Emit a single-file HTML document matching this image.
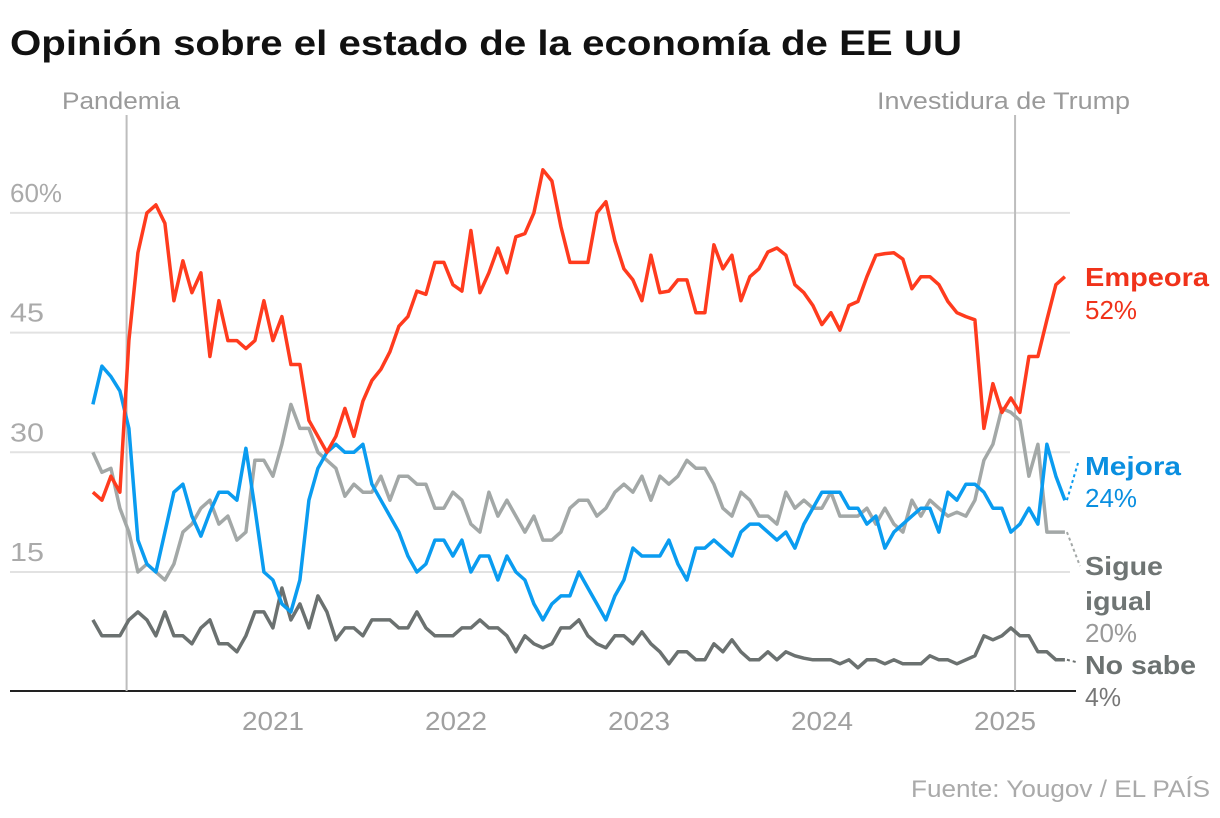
<!DOCTYPE html>
<html><head><meta charset="utf-8"><style>
body{margin:0;background:#fff;}
svg{display:block;font-family:"Liberation Sans",sans-serif;}
</style></head><body>
<svg id="chart" width="1220" height="818" viewBox="0 0 1220 818" xmlns="http://www.w3.org/2000/svg">
<text x="10" y="55" font-size="35" font-weight="bold" fill="#111" textLength="952" lengthAdjust="spacingAndGlyphs">Opinión sobre el estado de la economía de EE UU</text>
<g id="grid"></g>
<g id="events"></g>
<g id="series"></g>
<g id="labels"></g>
<text x="911" y="797" font-size="24" fill="#aaa" textLength="299" lengthAdjust="spacingAndGlyphs">Fuente: Yougov / EL PAÍS</text>
</svg>
<script>
const startYear = 2020.016;
const stepYears = 0.04918;
const empeora = [25,24,27,25,44,55,60,61,58.7,49,54,50,52.5,42,49,44,44,43,44,49,44,47,41,41,34,32,30,32,35.5,32,36.4,39,40.4,42.6,45.8,47,50.2,49.8,53.8,53.8,51,50.2,57.8,50,52.5,55.6,52.5,57,57.4,60,65.4,64,58.3,53.8,53.8,53.8,60,61.4,56.5,53,51.6,49,54.7,50,50.2,51.6,51.6,47.5,47.5,56,53,54.7,49,52,53,55.1,55.6,54.7,51,50,48.4,46,47.5,45.3,48.4,48.9,52,54.7,54.9,55,54.2,50.5,52,52,51,48.9,47.5,47,46.6,33,38.6,35,36.8,35,42,42,46.6,51,52];
const mejora = [36,40.8,39.5,37.7,33,19,16,15,20,25,26,22,19.5,22.5,25,25,24,30.5,23,15,14,11,10,14,24,28,30,31,30,30,31,26,24,22,20,17,15,16,19,19,17,19,15,17,17,14,17,15,14,11,9,11,12,12,15,13,11,9,12,14,18,17,17,17,19,16,14,18,18,19,18,17,20,21,21,20,19,20,18,21,23,25,25,25,23,23,21,22,18,20,21,22,23,23,20,25,24,26,26,25,23,23,20,21,23,21,31,27,24];
const sigue = [30,27.5,28,23,20,15,16,15,14,16,20,21,23,24,21,22,19,20,29,29,27,31,36,33,33,30,29,28,24.5,26,25,25,27,24,27,27,26,26,23,23,25,24,21,20,25,22,24,22,20,22,19,19,20,23,24,24,22,23,25,26,25,27,24,27,26,27,29,28,28,26,23,22,25,24,22,22,21,25,23,24,23,23,25,22,22,22,23,21,23,21,20,24,22,24,23,22,22.5,22,24,29,31,35.5,35,34,27,31,20,20,20];
const nosabe = [9,7,7,7,9,10,9,7,10,7,7,6,8,9,6,6,5,7,10,10,8,13,9,11,8,12,10,6.5,8,8,7,9,9,9,8,8,10,8,7,7,7,8,8,9,8,8,7,5,7,6,5.5,6,8,8,9,7,6,5.5,7,7,6,7.5,6,5,3.5,5,5,4,4,6,5,6.5,5,4,4,5,4,5,4.5,4.2,4,4,4,3.5,4,3,4,4,3.5,4,3.5,3.5,3.5,4.5,4,4,3.5,4,4.5,7,6.5,7,8,7,7,5,5,4,4];
const yTicks = [15,30,45,60];
const yTickLabels = ["15","30","45","60%"];
const xTicks = [2021,2022,2023,2024,2025];
const events = [2020.2,2025.055];
const eventLabels = ["Pandemia","Investidura de Trump"];

const NS="http://www.w3.org/2000/svg";
function X(yr){return 273+(yr-2021)*183;}
function Y(v){return 691.7-v*7.98;}
function mk(tag,attrs,parent){const e=document.createElementNS(NS,tag);for(const k in attrs)e.setAttribute(k,attrs[k]);parent.appendChild(e);return e;}
const grid=document.getElementById('grid'),ev=document.getElementById('events'),ser=document.getElementById('series'),lab=document.getElementById('labels');
yTicks.forEach((t,i)=>{
  const l=mk('line',{x1:10,x2:1070,y1:Y(t),y2:Y(t),stroke:'#e2e2e2','stroke-width':2},grid);
  
  
  const tx=mk('text',{x:10,y:Y(t)-11,'font-size':26,fill:'#aaa',textLength:yTickLabels[i].length>2?52:34,lengthAdjust:'spacingAndGlyphs'},grid);
  tx.textContent=yTickLabels[i];
  
  
});
const ax=mk('line',{x1:10,x2:1076,y1:691,y2:691,stroke:'#222','stroke-width':2},grid);


xTicks.forEach(t=>{
  const tx=mk('text',{x:X(t)-31,y:730,'font-size':26,fill:'#a0a0a0',textLength:62,lengthAdjust:'spacingAndGlyphs'},grid);
  tx.textContent=t;
  
  
});
events.forEach((e,i)=>{
  const l=mk('line',{x1:X(e),x2:X(e),y1:115,y2:691,stroke:'#bdbdbd','stroke-width':2},ev);
  
  
  const tx=mk('text',{x:i===0?62:877,y:109,'font-size':24,fill:'#9a9a9a',textLength:i===0?118:253,lengthAdjust:'spacingAndGlyphs'},ev);
  tx.textContent=eventLabels[i];
  
  
});
function draw(vals,color,name){
  let d='';
  vals.forEach((v,i)=>{const x=X(startYear+i*stepYears),y=Y(v);d+=(i?'L':'M')+x.toFixed(1)+','+y.toFixed(1);});
  const p=mk('path',{d:d,fill:'none',stroke:color,'stroke-width':3.5,'stroke-linejoin':'round'},ser);
  
  
  return [X(startYear+(vals.length-1)*stepYears),Y(vals[vals.length-1])];
}
const eN=draw(nosabe,'#6b7170','no-sabe');
const eS=draw(sigue,'#a3a8a7','sigue-igual');
const eM=draw(mejora,'#0a9cf0','mejora');
draw(empeora,'#ff3b1e','empeora');
function dot(end,tx,ty,color,name){
  const l=mk('line',{x1:end[0]+2,y1:end[1],x2:tx,y2:ty,stroke:color,'stroke-width':2,'stroke-dasharray':'3,3'},lab);
  
  
}
dot(eM,1078,463,'#0a9cf0','mejora-connector');
dot(eS,1080,566,'#a3a8a7','sigue-connector');
dot(eN,1076,662,'#6b7170','no-sabe-connector');
function label(txt,y,color,bold,w,name){
  const t=mk('text',{x:1085,y:y,'font-size':26,fill:color,'font-weight':bold?'bold':'normal',textLength:w,lengthAdjust:'spacingAndGlyphs'},lab);
  t.textContent=txt;
  
  
}
label('Empeora',286,'#f0321a',true,124,'empeora-label');
label('52%',319,'#f0321a',false,52,'empeora-value');
label('Mejora',475,'#0a8fe0',true,96,'mejora-label');
label('24%',507,'#0a8fe0',false,52,'mejora-value');
label('Sigue',575,'#6f7574',true,78,'sigue-label');
label('igual',610,'#6f7574',true,67,'igual-label');
label('20%',642,'#999',false,52,'sigue-value');
label('No sabe',674,'#6b7170',true,111,'no-sabe-label');
label('4%',706,'#777',false,36,'no-sabe-value');
</script>
</body></html>
